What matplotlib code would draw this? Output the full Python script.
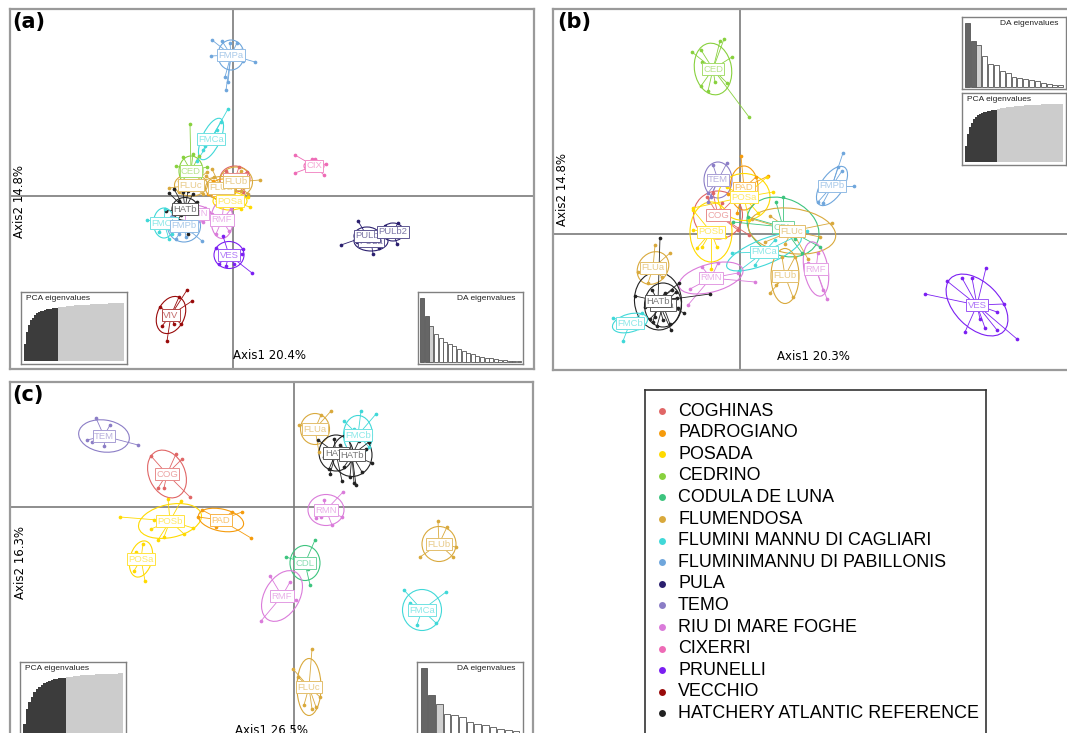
import matplotlib
matplotlib.use("Agg")
import matplotlib.pyplot as plt
from matplotlib.patches import Ellipse
from matplotlib.colors import to_rgb

W, H = 1067, 733

# populations (legend order) and their colours
pops = ["COGHINAS", "PADROGIANO", "POSADA", "CEDRINO", "CODULA DE LUNA", "FLUMENDOSA",
        "FLUMINI MANNU DI CAGLIARI", "FLUMINIMANNU DI PABILLONIS", "PULA", "TEMO",
        "RIU DI MARE FOGHE", "CIXERRI", "PRUNELLI", "VECCHIO", "HATCHERY ATLANTIC REFERENCE"]
pop_colors = ["#E06666", "#F59B0C", "#FFDA00", "#88D13E", "#3DC47E", "#D9A93C",
              "#40D8D8", "#6FA6DC", "#2A1F6E", "#8B7DC6", "#DA7BDA", "#EE6BB6",
              "#7B1FF2", "#990A0A", "#222222"]

# ---------------- panel (a) ----------------
a_names = ["COG", "PAD", "FLUa", "FLUb", "CED", "FLUc", "FMCa", "POSa", "RMF", "RMN", "HATb",
           "FMCb", "FMPb", "FMPa", "VES", "CIX", "PULa", "PULb", "PULb2", "VIV"]
a_pop = [0, 1, 5, 5, 3, 5, 6, 2, 10, 10, 14, 6, 7, 7, 12, 11, 8, 8, 8, 13]
a_center = [(0.2, 1.7), (-1.0, 0.6), (-1.2, 0.8), (0.3, 1.4), (-4.2, 2.5), (-4.2, 1.1), (-2.2, 5.7),
            (-0.3, -0.5), (-1.1, -2.4), (-3.6, -1.8), (-4.8, -1.3), (-6.9, -2.7), (-4.9, -3.0),
            (-0.2, 14.1), (-0.4, -5.9), (8.1, 3.0), (13.8, -4.5), (13.4, -4.0), (16.0, -3.6), (-6.2, -11.9)]
a_ellipse = [(3.0, 2.6, 0), (2.6, 2.2, 0), (3.1, 2.3, 0), (3.3, 3.0, 0), (3.0, 2.4, 90), (3.3, 2.2, 0),
             (4.5, 1.8, 65), (3.4, 1.8, 0), (3.7, 2.2, 90), (2.4, 1.7, 0), (2.6, 2.3, 0), (3.0, 2.1, 90),
             (3.3, 3.2, 0), (3.0, 2.6, 90), (3.0, 2.7, 0), (2.0, 1.2, 0), (3.4, 2.0, 0), (2.6, 1.8, 0),
             (2.2, 1.8, 0), (3.9, 2.7, 65)]
a_points = [
    [(-0.7, 2.5), (1.0, 0.4), (1.4, 2.4), (-0.4, 0.9), (0.6, 2.9)],
    [(-2.0, 1.5), (-1.6, -0.2), (0.2, 0.9), (-0.4, 1.6), (-2.5, 0.2)],
    [(-2.7, 2.0), (-2.1, 2.7), (0.8, 0.5), (-1.6, -0.5), (-0.5, 2.2)],
    [(2.7, 1.6), (0.8, 2.5), (1.5, 0.2), (-0.9, 0.9), (0.5, 2.2)],
    [(-4.3, 7.2), (-5.7, 3.0), (-5.2, 1.4), (-3.4, 4.0), (-4.0, 4.2), (-2.6, 2.9), (-5.0, 3.9)],
    [(-6.4, 0.8), (-5.4, 0.4), (-2.6, 2.4), (-1.9, 1.9), (-5.4, 1.5), (-3.0, 0.2)],
    [(-0.5, 8.7), (-1.2, 7.4), (-3.0, 4.6), (-3.6, 3.5), (-1.6, 6.6), (-2.8, 5.0)],
    [(1.7, -1.1), (1.5, -0.1), (-1.2, 0.2), (0.8, -1.3), (-2.3, 0.5)],
    [(-0.9, -0.5), (-1.7, -3.8), (-0.4, -3.5), (-2.1, -1.8), (-0.2, -1.3)],
    [(-2.8, -1.2), (-4.4, -2.4), (-3.0, -2.6), (-2.4, -1.6)],
    [(-6.4, 0.3), (-5.9, 0.7), (-5.0, 0.4), (-4.5, 0.5), (-4.0, 0.2), (-5.4, -0.5), (-3.6, -0.6),
     (-4.5, -3.8), (-6.7, -1.5), (-5.2, -1.9), (-3.9, -1.6), (-4.2, -2.8), (-5.6, -2.5)],
    [(-8.6, -2.4), (-6.8, -1.3), (-6.4, -4.3), (-6.1, -3.8), (-7.4, -3.6)],
    [(-3.1, -4.5), (-5.7, -4.3), (-5.4, -3.8), (-4.2, -3.5), (-6.1, -2.1), (-4.7, -4.1)],
    [(-2.1, 15.6), (-1.1, 15.5), (-0.3, 15.3), (0.4, 15.3), (-2.2, 14.0), (1.0, 13.5), (2.2, 13.4),
     (-0.8, 11.9), (-0.5, 11.4), (-0.7, 10.6), (0.8, 14.6)],
    [(1.9, -7.7), (-1.0, -4.0), (1.0, -5.3), (0.9, -5.8), (-1.4, -6.8), (-0.7, -7.0), (-1.7, -5.2), (0.1, -6.8)],
    [(6.2, 4.1), (6.2, 2.3), (9.1, 2.1), (9.3, 3.2), (7.9, 3.7), (8.2, 3.7)],
    [(14.0, -5.8), (14.6, -5.2), (12.6, -5.0), (15.0, -4.2)],
    [(12.5, -2.5), (10.8, -4.9), (12.4, -4.6)],
    [(16.5, -2.7), (16.4, -4.8), (15.2, -3.0)],
    [(-4.6, -9.4), (-4.1, -10.5), (-7.3, -11.1), (-6.6, -14.5), (-5.2, -12.8), (-5.4, -10.1),
     (-5.9, -12.8), (-7.1, -13.0)],
]
a_pca = [0.30, 0.50, 0.62, 0.70, 0.75, 0.79, 0.82, 0.84, 0.86, 0.87, 0.88, 0.89, 0.90, 0.905, 0.91,
         0.915, 0.92, 0.925, 0.93, 0.935, 0.94, 0.945, 0.95, 0.952, 0.955, 0.958, 0.96, 0.963, 0.966,
         0.968, 0.97, 0.972, 0.974, 0.976, 0.978, 0.98, 0.982, 0.984, 0.986, 0.988, 0.99, 0.991,
         0.992, 0.993, 0.994, 0.995, 0.996, 0.997, 0.998, 1.0]
a_pca_kept = 17
a_da = [1.0, 0.72, 0.57, 0.44, 0.37, 0.32, 0.28, 0.25, 0.21, 0.17, 0.14, 0.12, 0.10, 0.08, 0.07,
        0.06, 0.05, 0.04, 0.03, 0.02, 0.015, 0.01]

# ---------------- panel (b) ----------------
b_names = ["CED", "TEM", "PAD", "COG", "POSa", "POSb", "CDL", "FLUc", "FMCa", "RMF", "FLUb", "FLUa",
           "RMN", "HATa", "HATb", "FMCb", "FMPb", "VES"]
b_pop = [3, 9, 1, 0, 2, 2, 4, 5, 6, 10, 5, 5, 10, 14, 14, 6, 7, 12]
b_center = [(-2.7, 16.5), (-2.2, 5.4), (0.4, 4.6), (-2.2, 1.9), (0.4, 3.7), (-2.9, 0.2), (4.3, 0.7),
            (5.2, 0.3), (2.4, -1.8), (7.6, -3.5), (4.5, -4.2), (-8.7, -3.4), (-2.9, -4.4), (-7.7, -7.1),
            (-8.2, -6.7), (-11.0, -8.9), (9.2, 4.8), (23.7, -7.1)]
b_ellipse = [(5.2, 3.7, 100), (3.6, 2.8, 90), (4.4, 2.8, 90), (4.9, 4.8, 0), (5.2, 4.7, 0), (6.0, 4.2, 90),
             (7.5, 5.6, -25), (8.8, 4.5, -8), (8.0, 2.5, 22), (5.5, 2.4, 100), (5.5, 2.8, 90),
             (3.5, 2.9, 50), (6.6, 2.8, 15), (4.4, 3.7, 90), (5.8, 4.7, 95), (3.6, 1.8, 15),
             (4.5, 2.2, 56), (7.5, 4.5, -45)]
b_points = [
    [(-4.8, 18.2), (-3.9, 18.4), (-1.6, 19.5), (-2.0, 19.3), (-0.8, 17.7), (-3.9, 14.8), (-3.2, 14.3),
     (0.9, 11.7), (-1.3, 15.1), (-2.5, 15.2), (-3.8, 17.2)],
    [(-1.3, 7.1), (-3.2, 3.2), (-2.9, 3.7), (-3.2, 4.1), (-2.7, 6.9)],
    [(0.1, 7.8), (2.8, 5.8), (1.6, 5.7), (0.8, 3.4), (-0.3, 2.1), (-1.2, 4.0)],
    [(-3.3, 3.7), (-2.7, 4.1), (-0.2, 0.4), (-0.5, 3.6), (0.9, -0.1), (-1.8, 3.1)],
    [(2.7, 5.7), (-4.7, 2.6), (1.8, 2.1), (-1.3, 4.7), (0.9, 1.4), (3.3, 4.2)],
    [(-4.7, 0.4), (-4.3, -1.4), (-2.9, -3.5), (-2.3, -1.3), (-3.8, -1.3), (-1.5, -0.3), (-4.7, 2.4)],
    [(3.6, 3.2), (4.3, 3.7), (-0.7, 1.2), (8.0, -1.3), (6.2, -1.9), (0.8, 1.7), (5.5, -0.5)],
    [(9.2, 1.1), (8.0, -0.3), (1.2, 1.5), (2.5, -0.8), (6.8, -2.5), (4.5, -1.0), (3.0, 1.8)],
    [(6.7, 0.3), (-0.8, -1.9), (-0.1, -3.7), (1.5, -3.1), (3.5, -0.6)],
    [(8.7, -6.5), (7.8, -1.9), (6.8, -2.9), (8.3, -5.6)],
    [(3.0, -5.9), (3.6, -5.1), (5.3, -6.3), (5.5, -2.3), (4.2, -2.3)],
    [(-8.5, -1.1), (-7.0, -1.9), (-10.2, -3.8), (-7.8, -4.3), (-9.2, -4.9)],
    [(1.5, -4.8), (-0.2, -3.9), (-5.2, -7.1), (-3.8, -3.3), (-2.2, -2.9), (-5.0, -5.5)],
    [(-6.4, -5.8), (-7.0, -9.0), (-9.0, -8.5), (-6.2, -7.4), (-8.3, -9.2)],
    [(-8.0, -0.4), (-10.5, -6.2), (-6.1, -4.9), (-5.6, -7.9), (-6.9, -9.6), (-3.0, -6.0), (-7.5, -5.9),
     (-8.8, -5.6), (-9.5, -7.3), (-8.5, -8.3), (-7.7, -8.6), (-6.5, -7.3), (-6.8, -5.6), (-9.2, -6.6),
     (-8.7, -8.8), (-6.3, -6.4)],
    [(-11.7, -10.7), (-12.7, -8.4), (-9.8, -7.9), (-10.2, -9.4)],
    [(10.3, 8.1), (11.4, 4.8), (7.8, 3.2), (8.3, 3.1), (9.8, 6.7), (10.2, 6.3), (8.0, 4.9)],
    [(18.5, -6.0), (24.6, -3.4), (27.7, -10.5), (20.7, -4.7), (26.4, -7.0), (25.7, -7.8), (24.5, -9.4),
     (22.5, -9.8), (22.2, -4.4), (23.2, -4.4), (25.7, -9.6), (24.0, -8.5)],
]
b_pca = [0.28, 0.48, 0.60, 0.68, 0.74, 0.78, 0.81, 0.83, 0.85, 0.86, 0.87, 0.88, 0.885, 0.89, 0.895,
         0.90, 0.91, 0.92, 0.93, 0.935, 0.94, 0.945, 0.95, 0.953, 0.956, 0.96, 0.963, 0.966, 0.969,
         0.972, 0.975, 0.977, 0.979, 0.981, 0.983, 0.985, 0.987, 0.989, 0.99, 0.992, 0.993, 0.994,
         0.995, 0.996, 0.997, 0.998, 0.999, 1.0, 1.0, 1.0]
b_pca_kept = 16
b_da = [1.0, 0.72, 0.66, 0.48, 0.36, 0.35, 0.25, 0.22, 0.16, 0.14, 0.13, 0.11, 0.09, 0.06, 0.05, 0.04, 0.03]

# ---------------- panel (c) ----------------
c_names = ["TEM", "COG", "POSb", "PAD", "POSa", "RMN", "CDL", "RMF", "FLUc", "FLUa", "FMCb", "HATa",
           "HATb", "FLUb", "FMCa"]
c_pop = [9, 0, 2, 1, 2, 10, 4, 10, 5, 5, 6, 14, 14, 5, 6]
c_center = [(-19.0, 7.1), (-12.7, 3.3), (-12.4, -1.4), (-7.3, -1.3), (-15.3, -5.2), (3.2, -0.3),
            (1.1, -5.6), (-1.2, -8.9), (1.5, -18.0), (2.1, 7.8), (6.4, 7.2), (4.2, 5.4), (5.8, 5.2),
            (14.5, -3.7), (12.8, -10.3)]
c_ellipse = [(5.1, 3.2, -8), (5.0, 3.6, -65), (6.4, 3.3, 12), (4.6, 2.2, -12), (3.7, 2.2, 75),
             (3.6, 3.1, 0), (3.5, 3.0, 90), (5.5, 3.5, 60), (5.7, 2.4, 90), (3.1, 2.9, 90),
             (3.9, 2.9, 90), (3.6, 3.4, 90), (4.3, 4.0, 90), (3.5, 3.4, 90), (4.1, 3.9, 90)]
c_points = [
    [(-19.8, 8.9), (-18.4, 8.2), (-20.7, 6.7), (-20.2, 6.5), (-19.0, 6.1), (-15.6, 6.2)],
    [(-14.3, 5.1), (-11.2, 4.8), (-11.8, 5.3), (-10.4, 1.0), (-13.0, 1.9), (-13.6, 1.9)],
    [(-17.4, -1.0), (-12.6, 0.8), (-11.3, 0.6), (-14.3, -2.2), (-13.0, -3.0), (-11.0, -2.7),
     (-10.1, -2.1), (-13.6, -3.3), (-14.0, -1.3)],
    [(-5.2, -0.5), (-4.3, -3.1), (-9.2, -0.3), (-7.8, -2.0), (-6.2, -0.5), (-9.6, -1.0)],
    [(-15.1, -3.7), (-14.9, -7.4), (-16.0, -6.4), (-15.8, -4.5)],
    [(4.9, 1.5), (2.2, -1.1), (3.8, -1.8), (2.7, -1.0), (4.8, -1.0), (3.0, 0.7)],
    [(2.1, -3.3), (-0.8, -5.0), (1.6, -7.8), (1.4, -6.2), (0.0, -5.0)],
    [(-2.4, -6.9), (-3.3, -11.4), (0.2, -9.3), (-0.4, -7.5)],
    [(1.8, -14.2), (-0.1, -16.2), (2.6, -19.0), (2.2, -20.0), (1.0, -19.8), (1.8, -20.2), (0.4, -17.0)],
    [(3.7, 9.6), (0.5, 8.2), (2.5, 5.5), (2.7, 9.2)],
    [(8.2, 9.3), (6.7, 9.6), (5.0, 8.6), (7.5, 6.0), (6.0, 7.8)],
    [(2.4, 6.7), (3.6, 3.3), (3.5, 3.8), (4.8, 2.6), (3.0, 5.0), (4.0, 6.8)],
    [(6.2, 2.2), (7.8, 4.4), (6.5, 6.6), (5.5, 6.8), (4.6, 6.2), (7.2, 5.8), (5.6, 3.0), (6.8, 3.5),
     (7.5, 6.5), (5.0, 4.0), (6.0, 2.4)],
    [(14.4, -1.4), (12.6, -5.0), (15.9, -5.0), (16.2, -4.0), (15.3, -2.0)],
    [(11.0, -8.3), (15.2, -8.5), (12.3, -11.8), (14.2, -11.6), (11.6, -9.6)],
]
c_pca = [0.15, 0.40, 0.52, 0.61, 0.68, 0.73, 0.77, 0.80, 0.83, 0.85, 0.87, 0.885, 0.90, 0.91, 0.92,
         0.925, 0.93, 0.935, 0.94, 0.945, 0.95, 0.955, 0.96, 0.964, 0.968, 0.971, 0.974, 0.977, 0.98,
         0.982, 0.984, 0.986, 0.988, 0.99, 0.992, 0.994, 0.996, 0.997, 0.999, 1.0]
c_pca_kept = 17
c_da = [1.0, 0.60, 0.45, 0.31, 0.29, 0.26, 0.18, 0.15, 0.14, 0.10, 0.08, 0.06, 0.05]


def px_axes(fig, x0, y0, x1, y1):
    """axes from pixel box (top-left origin)"""
    return fig.add_axes([x0 / W, 1 - y1 / H, (x1 - x0) / W, (y1 - y0) / H])


def pale(col, f=0.55):
    r, g, b = to_rgb(col)
    return (r + (1 - r) * (1 - f), g + (1 - g) * (1 - f), b + (1 - b) * (1 - f))


def draw_panel(ax, names, pop, centers, ellipses, points, xlim, ylim):
    ax.set_xlim(*xlim)
    ax.set_ylim(*ylim)
    ax.set_xticks([])
    ax.set_yticks([])
    for s in ax.spines.values():
        s.set_color("#9a9a9a")
        s.set_linewidth(1.6)
    ax.axhline(0, color="#7a7a7a", lw=1.2, zorder=1)
    ax.axvline(0, color="#7a7a7a", lw=1.2, zorder=1)
    for i in range(len(names)):
        col = pop_colors[pop[i]]
        cx, cy = centers[i]
        for px, py in points[i]:
            ax.plot([cx, px], [cy, py], color=col, lw=0.6, zorder=2)
        ax.scatter([p[0] for p in points[i]], [p[1] for p in points[i]], s=7, color=col,
                   linewidths=0, zorder=3)
        w, h, ang = ellipses[i]
        ax.add_patch(Ellipse((cx, cy), w, h, angle=ang, fill=False, ec=col, lw=0.8, zorder=2))
    for i in range(len(names)):
        col = pop_colors[pop[i]]
        cx, cy = centers[i]
        ax.text(cx, cy, names[i], color=pale(col, 0.6), fontsize=6.8, family="Liberation Sans",
                ha="center", va="center", zorder=5,
                bbox=dict(boxstyle="square,pad=0.15", fc="white", ec=pale(col, 0.75), lw=0.7))


def inset_frame(ax):
    ax.set_xticks([])
    ax.set_yticks([])
    ax.set_facecolor("white")
    for s in ax.spines.values():
        s.set_color("#808080")
        s.set_linewidth(1.0)


def pca_inset(fig, box, vals, kept):
    ax = px_axes(fig, *box)
    inset_frame(ax)
    n = len(vals)
    cols = ["#3c3c3c" if i < kept else "#cccccc" for i in range(n)]
    ax.bar(range(n), vals, width=1.0, color=cols, linewidth=0)
    ax.set_xlim(-0.5 - 0.035 * n, n - 0.5 + 0.035 * n)
    ax.set_ylim(-0.05, 1.19)
    ax.text(0.05, 0.96, "PCA eigenvalues", transform=ax.transAxes, ha="left", va="top",
            fontsize=6, family="Liberation Sans", color="#222222")


def da_inset(fig, box, vals):
    ax = px_axes(fig, *box)
    inset_frame(ax)
    n = len(vals)
    cols = ["#666666", "#666666", "#d0d0d0"] + ["white"] * (n - 3)
    ax.bar(range(n), vals, width=0.85, color=cols, edgecolor="#555555", linewidth=0.6)
    ax.set_xlim(-0.9, n - 0.1)
    ax.set_ylim(-0.03, 1.094)
    ax.text(0.93, 0.96, "DA eigenvalues", transform=ax.transAxes, ha="right", va="top",
            fontsize=6, family="Liberation Sans", color="#222222")


fig = plt.figure(figsize=(W / 100, H / 100), dpi=100)

# panel a
ax_a = px_axes(fig, 10, 9, 534, 369)
draw_panel(ax_a, a_names, a_pop, a_center, a_ellipse, a_points, (-22.3, 30.1), (-17.3, 18.7))
ax_a.text(0.0, -17.3 + 0.7, "Axis1 20.4%", fontsize=8.5, ha="left", va="bottom")
ax_a.text(-21.3, -0.6, "Axis2 14.8%", fontsize=8.5, rotation=90, ha="center", va="center")
pca_inset(fig, (21, 292, 127, 364), a_pca, a_pca_kept)
da_inset(fig, (418, 292, 523, 364), a_da)
fig.text(12 / W, 1 - 12 / H, "(a)", fontsize=15, fontweight="bold", ha="left", va="top")

# panel b
ax_b = px_axes(fig, 553, 9, 1070, 370)
draw_panel(ax_b, b_names, b_pop, b_center, b_ellipse, b_points, (-18.7, 33.0), (-13.6, 22.5))
ax_b.text(3.7, -13.6 + 0.7, "Axis1 20.3%", fontsize=8.5, ha="left", va="bottom")
ax_b.text(-17.7, 4.4, "Axis2 14.8%", fontsize=8.5, rotation=90, ha="center", va="center")
da_inset(fig, (962, 17, 1066, 89), b_da)
pca_inset(fig, (962, 93, 1066, 165), b_pca, b_pca_kept)
fig.text(557 / W, 1 - 12 / H, "(b)", fontsize=15, fontweight="bold", ha="left", va="top")

# panel c
ax_c = px_axes(fig, 10, 382, 533, 742)
draw_panel(ax_c, c_names, c_pop, c_center, c_ellipse, c_points, (-28.4, 23.9), (-23.5, 12.5))
ax_c.text(-5.9, -23.5 + 0.5, "Axis1 26.5%", fontsize=8.5, ha="left", va="bottom")
ax_c.text(-27.3, -5.5, "Axis2 16.3%", fontsize=8.5, rotation=90, ha="center", va="center")
pca_inset(fig, (20, 662, 126, 736), c_pca, c_pca_kept)
da_inset(fig, (417, 662, 523, 736), c_da)
fig.text(12 / W, 1 - 385 / H, "(c)", fontsize=15, fontweight="bold", ha="left", va="top")

# legend
ax_l = px_axes(fig, 645, 390, 986, 745)
ax_l.set_xlim(0, 341)
ax_l.set_ylim(355, 0)
ax_l.set_xticks([])
ax_l.set_yticks([])
for s in ax_l.spines.values():
    s.set_color("#333333")
    s.set_linewidth(1.2)
for i, name in enumerate(pops):
    y = 21 + 21.6 * i
    ax_l.plot(17, y, "o", ms=5, color=pop_colors[i], mec="none")
    ax_l.text(33, y, name, fontsize=12.9, family="Liberation Sans", va="center", ha="left")

fig.savefig("out.png", dpi=100)
